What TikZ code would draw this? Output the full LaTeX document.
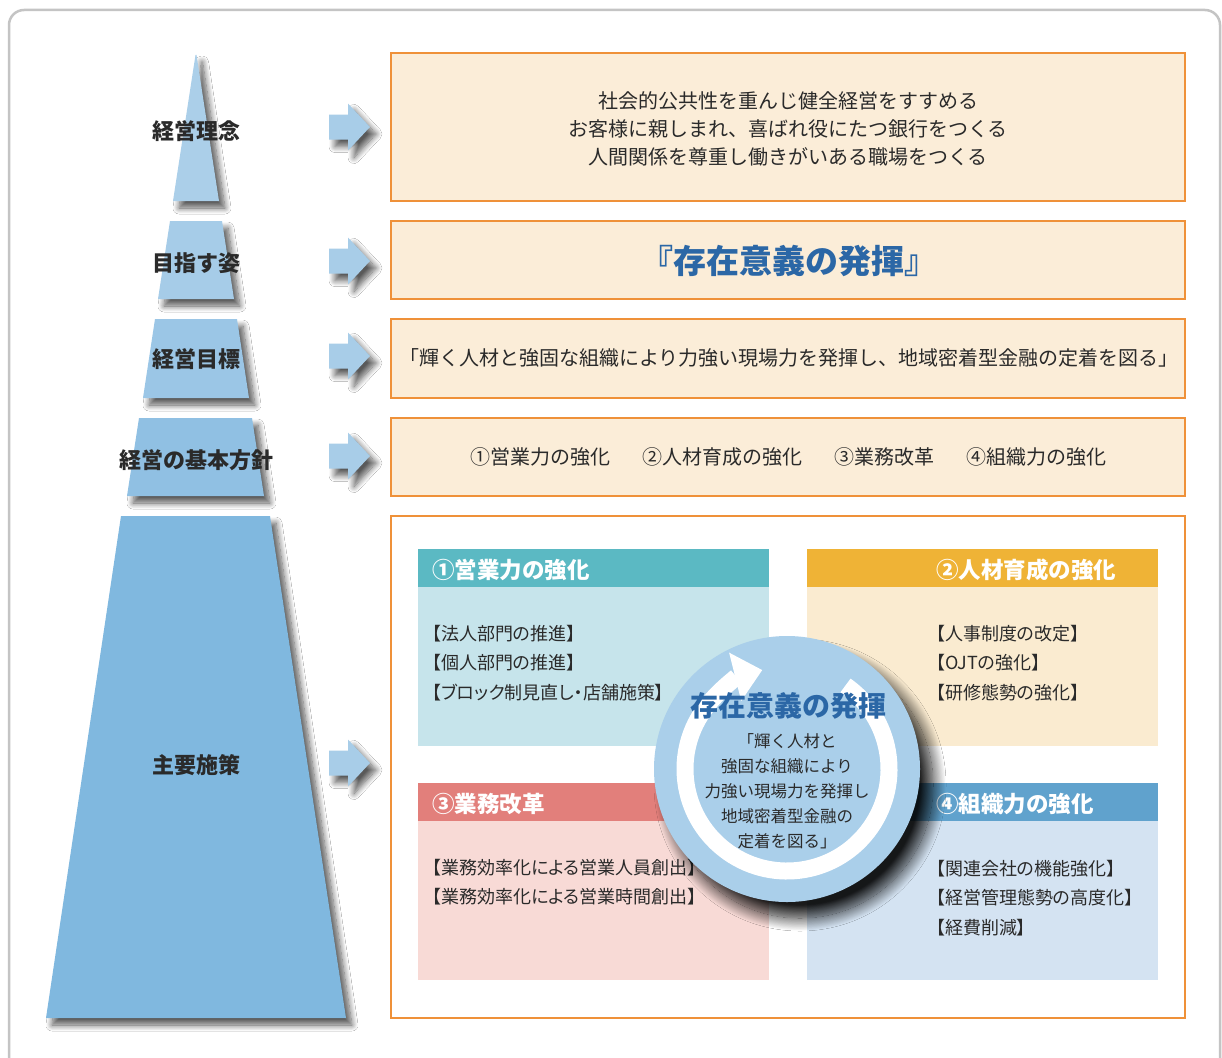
\documentclass[tikz,border=0pt]{standalone}
\usepackage{fontspec}
\setmainfont{Noto Sans CJK JP}
\newfontfamily\cjkp[RawFeature=+palt]{Noto Sans CJK JP}
\usetikzlibrary{arrows.meta,shadows.blur}
\definecolor{framec}{HTML}{C4C4C4}
\definecolor{orangec}{HTML}{EF9139}
\definecolor{boxfill}{HTML}{FBEDD8}
\definecolor{pyrA}{HTML}{ABCFE9}
\definecolor{pyrB}{HTML}{A6CCE8}
\definecolor{pyrC}{HTML}{9BC6E6}
\definecolor{pyrD}{HTML}{90C0E3}
\definecolor{pyrE}{HTML}{80B8DF}
\definecolor{arrowc}{HTML}{A8CDE8}
\definecolor{hA}{HTML}{5BB9C3}
\definecolor{bA}{HTML}{C6E4EB}
\definecolor{hB}{HTML}{EFB336}
\definecolor{bB}{HTML}{FAEBD0}
\definecolor{hC}{HTML}{E27F7B}
\definecolor{bC}{HTML}{F8DAD6}
\definecolor{hD}{HTML}{60A2CD}
\definecolor{bD}{HTML}{D4E3F2}
\definecolor{circc}{HTML}{AACFEA}
\definecolor{titleblue}{HTML}{2B67A6}
\definecolor{txt}{HTML}{2A2A2A}
\begin{document}
\begin{tikzpicture}[x=1pt,y=-1pt,
  pshadow/.style={blur shadow={shadow xshift=6pt,shadow yshift=-7pt,shadow blur radius=6pt,shadow blur steps=10,shadow opacity=65}},
  lab/.style={font=\bfseries\fontsize{22pt}{22pt}\selectfont,text=txt,inner sep=0pt},
  topbox/.style={draw=orangec,line width=2.6pt,fill=boxfill,inner sep=0pt},
  boxtxt/.style={font=\fontsize{20pt}{28pt}\selectfont,text=txt,align=center,inner sep=0pt},
  head/.style={minimum width=351pt,minimum height=38pt,inner sep=0pt,anchor=north west},
  body/.style={minimum width=351pt,inner sep=0pt,anchor=north west},
  headtxt/.style={font=\bfseries\fontsize{22.5pt}{22.5pt}\selectfont,text=white,anchor=west,inner sep=0pt},
  itemtxt/.style={font=\cjkp\fontsize{18pt}{29.5pt}\selectfont,text=txt,anchor=west,align=left,inner sep=0pt},
  barrow/.pic={\fill[arrowc,pshadow] (-20,-12.5) -- (-1,-12.5) -- (-1,-23.5) -- (21,0) -- (-1,23.5) -- (-1,12.5) -- (-20,12.5) -- cycle;}
]
\useasboundingbox (0,0) rectangle (1222,1057);
\clip (0,0) rectangle (1222,1057);
\fill[white] (0,0) rectangle (1222,1057);
% outer frame
\draw[framec,line width=2.5pt,rounded corners=15pt] (9,10) rectangle (1220,1110);

% pyramid
\fill[pyrA,pshadow] (195.5,55) -- (196.5,55) -- (219,201) -- (173,201) -- cycle;
\fill[pyrB,pshadow] (170,221) -- (222,221) -- (234,299) -- (158,299) -- cycle;
\fill[pyrC,pshadow] (155,319) -- (237,319) -- (249,398) -- (143,398) -- cycle;
\fill[pyrD,pshadow] (139,418) -- (252,418) -- (264,496) -- (127,496) -- cycle;
\fill[pyrE,pshadow] (121,516) -- (270,516) -- (346,1018) -- (46,1018) -- cycle;
\node[lab] (l1) at (196,131) {経営理念};
\node[lab] (l2) at (196,263) {目指す姿};
\node[lab] (l3) at (196,359) {経営目標};
\node[lab] (l4) at (196,460) {経営の基本方針};
\node[lab] (l5) at (196,765) {主要施策};

% arrows
\pic (a1) at (349,127) {barrow};
\pic (a2) at (349,261) {barrow};
\pic (a3) at (349,356) {barrow};
\pic (a4) at (349,456) {barrow};
\pic (a5) at (349,763) {barrow};

% right boxes
\node[topbox,minimum width=794pt,minimum height=148pt] (b1) at (788,127) {};
\node[topbox,minimum width=794pt,minimum height=78pt] (b2) at (788,260) {};
\node[topbox,minimum width=794pt,minimum height=79pt] (b3) at (788,358.5) {};
\node[topbox,minimum width=794pt,minimum height=78pt] (b4) at (788,457) {};
\node[topbox,fill=white,minimum width=794pt,minimum height=502pt] (b5) at (788,767) {};

\node[boxtxt] (t1) at (788,129) {社会的公共性を重んじ健全経営をすすめる\\お客様に親しまれ、喜ばれ役にたつ銀行をつくる\\人間関係を尊重し働きがいある職場をつくる};
\node[boxtxt,font=\bfseries\fontsize{33pt}{33pt}\selectfont,text=titleblue] (t2) at (789,261) {『存在意義の発揮』};
\node[boxtxt] (t3) at (789,358) {「輝く人材と強固な組織により力強い現場力を発揮し、地域密着型金融の定着を図る」};
\node[boxtxt] (t4) at (788,457) {①営業力の強化\hspace{32pt}②人材育成の強化\hspace{32pt}③業務改革\hspace{32pt}④組織力の強化};

% inner boxes
\node[head,fill=hA] (hA) at (418,549) {};
\node[body,fill=bA,minimum height=159pt] (bA) at (418,587) {};
\node[head,fill=hB] (hB) at (807,549) {};
\node[body,fill=bB,minimum height=159pt] (bB) at (807,587) {};
\node[head,fill=hC] (hC) at (418,783) {};
\node[body,fill=bC,minimum height=159pt] (bC) at (418,821) {};
\node[head,fill=hD] (hD) at (807,783) {};
\node[body,fill=bD,minimum height=159pt] (bD) at (807,821) {};

\node[headtxt] (htA) at (432,570) {①営業力の強化};
\node[headtxt] (htB) at (936,570) {②人材育成の強化};
\node[headtxt] (htC) at (432,804) {③業務改革};
\node[headtxt] (htD) at (936,804) {④組織力の強化};

\node[itemtxt] (iA) at (432,663) {【法人部門の推進】\\【個人部門の推進】\\【ブロック制見直し・店舗施策】};
\node[itemtxt] (iB) at (936,663) {【人事制度の改定】\\【OJTの強化】\\【研修態勢の強化】};
\node[itemtxt] (iC) at (432,882) {【業務効率化による営業人員創出】\\【業務効率化による営業時間創出】};
\node[itemtxt] (iD) at (936,898) {【関連会社の機能強化】\\【経営管理態勢の高度化】\\【経費削減】};

% central circle
\node[circle,fill=circc,minimum size=266pt,inner sep=0pt,
  blur shadow={shadow xshift=13pt,shadow yshift=-16pt,shadow blur radius=13pt,shadow blur steps=24,shadow opacity=90}] (circ) at (787,769) {};
\draw[white,line width=17pt,-{Triangle[width=48pt,length=28pt]}]
  (circ.center) ++(-55:102) arc[start angle=-55,end angle=256,radius=102];
\node[font=\bfseries\fontsize{28pt}{28pt}\selectfont,text=titleblue,inner sep=0pt] (ct) at (788,706) {存在意義の発揮};
\node[font=\fontsize{16.5pt}{25pt}\selectfont,text=txt,align=center,inner sep=0pt] (cb) at (787,791) {「輝く人材と\\強固な組織により\\力強い現場力を発揮し\\地域密着型金融の\\定着を図る」};
\end{tikzpicture}
\end{document}
